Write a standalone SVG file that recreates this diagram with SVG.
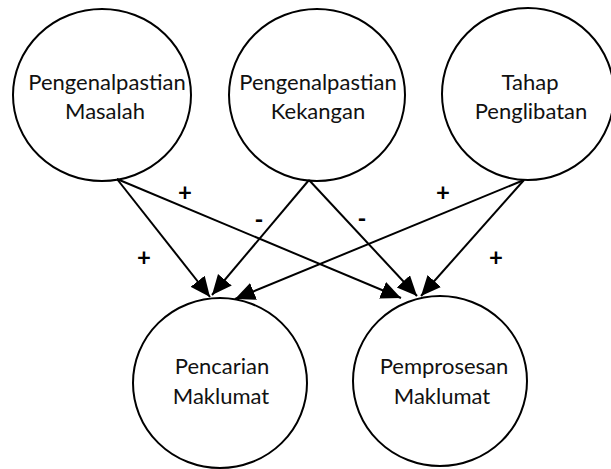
<svg xmlns="http://www.w3.org/2000/svg" width="611" height="469" viewBox="0 0 611 469">
<defs>
<style>
.node ellipse{fill:#fff;stroke:#000;stroke-width:2}
.node text{font-family:Lato,"Liberation Sans",sans-serif;font-size:22px;fill:#111;text-anchor:middle}
.edges line{stroke:#000;stroke-width:2;marker-end:url(#arr)}
.lbl{font-family:Lato,"Liberation Sans",sans-serif;font-size:24px;font-weight:bold;text-anchor:middle;fill:#000}
</style>
<marker id="arr" markerUnits="userSpaceOnUse" markerWidth="22" markerHeight="20" refX="20" refY="9" orient="auto">
<path d="M0,0 L20,9 L0,18 z" fill="#000"/>
</marker>
</defs>
<rect width="611" height="469" fill="#fff"/>
<g id="n-masalah" class="node">
<ellipse cx="102" cy="95" rx="89" ry="86"/>
<text x="107" y="90">Pengenalpastian</text>
<text x="105" y="119">Masalah</text>
</g>
<g id="n-kekangan" class="node">
<ellipse cx="317" cy="95" rx="88" ry="86"/>
<text x="318" y="90">Pengenalpastian</text>
<text x="318" y="119">Kekangan</text>
</g>
<g id="n-penglibatan" class="node">
<ellipse cx="528" cy="94" rx="86" ry="86"/>
<text x="530" y="90">Tahap</text>
<text x="531" y="119">Penglibatan</text>
</g>
<g id="n-pencarian" class="node">
<ellipse cx="220" cy="383" rx="87" ry="85"/>
<text x="222" y="374">Pencarian</text>
<text x="221" y="404">Maklumat</text>
</g>
<g id="n-pemprosesan" class="node">
<ellipse cx="440" cy="381" rx="87" ry="85"/>
<text x="444" y="374">Pemprosesan</text>
<text x="442" y="404">Maklumat</text>
</g>
<g id="edges" class="edges">
<line x1="117" y1="179" x2="210" y2="297"/>
<line x1="117" y1="179" x2="401" y2="298"/>
<line x1="309" y1="180" x2="212" y2="295"/>
<line x1="309" y1="180" x2="417" y2="296"/>
<line x1="524" y1="180" x2="235" y2="299"/>
<line x1="524" y1="180" x2="421" y2="296"/>
</g>
<g id="labels">
<text class="lbl" x="185" y="201">+</text>
<text class="lbl" x="144" y="266">+</text>
<text class="lbl" x="259" y="228">-</text>
<text class="lbl" x="362" y="227">-</text>
<text class="lbl" x="443" y="201">+</text>
<text class="lbl" x="496" y="266">+</text>
</g>
</svg>
